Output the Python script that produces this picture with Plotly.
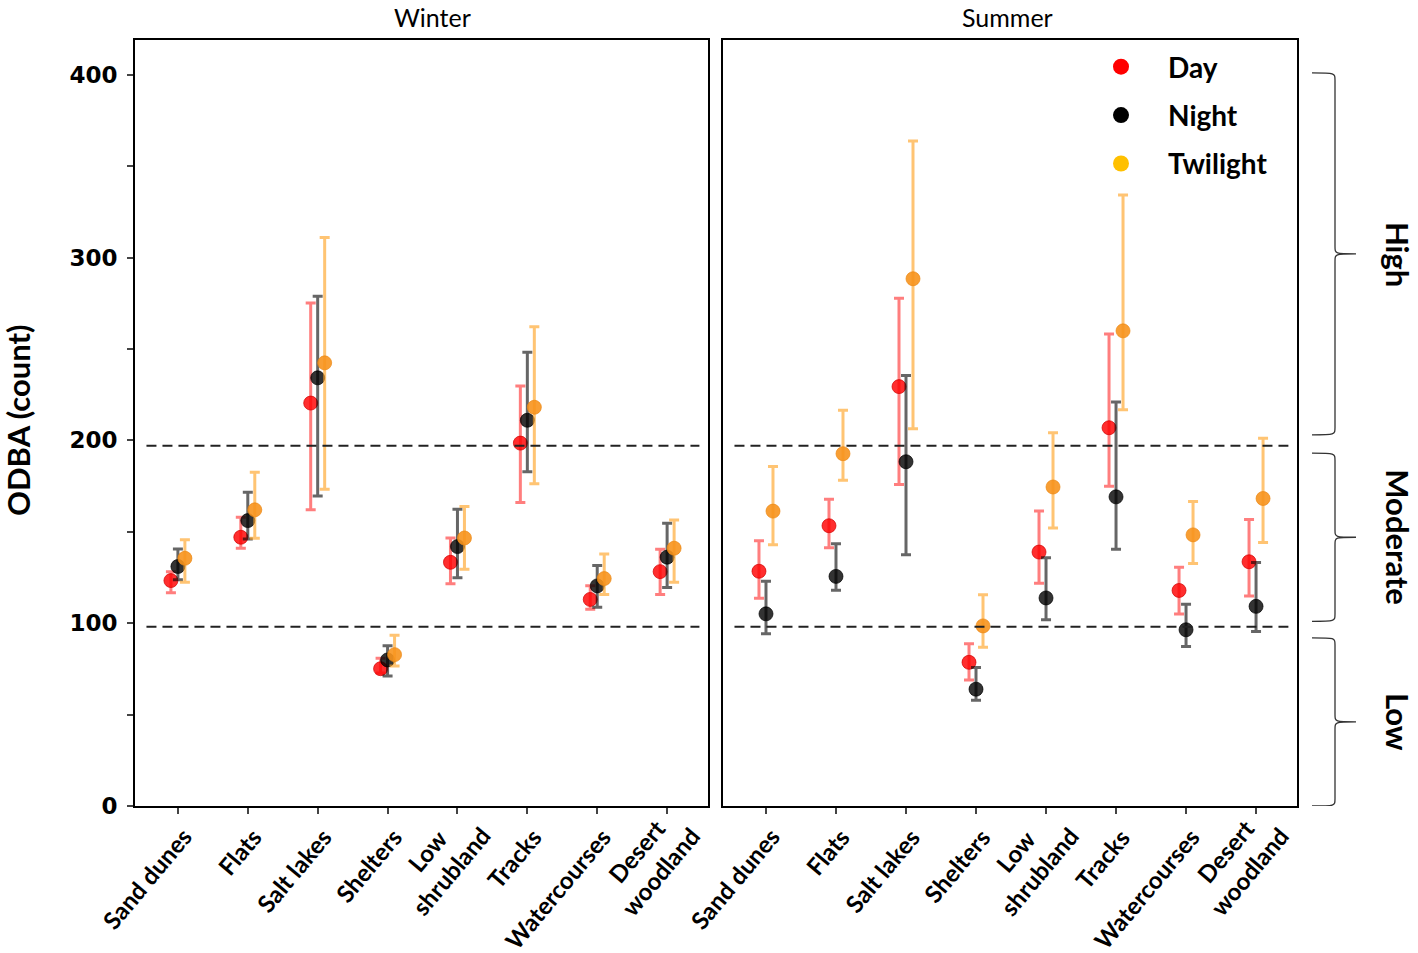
import plotly.graph_objects as go

# ---------------- data ----------------
categories = ["Sand dunes", "Flats", "Salt lakes", "Shelters", "Low<br>shrubland",
              "Tracks", "Watercourses", "Desert<br>woodland"]
periods = ["Day", "Night", "Twilight"]

# Winter
winter_day_mean = [123.3, 147.0, 220.4, 75.1, 133.3, 198.5, 113.0, 128.2]
winter_day_upper = [128.2, 158.0, 275.1, 80.8, 146.6, 229.8, 120.5, 140.4]
winter_day_lower = [116.7, 141.0, 162.0, 72.8, 121.6, 166.0, 107.6, 115.7]

winter_night_mean = [131.0, 156.1, 234.2, 79.9, 141.9, 211.0, 120.4, 136.1]
winter_night_upper = [140.6, 171.6, 278.9, 87.7, 162.3, 248.2, 131.5, 154.7]
winter_night_lower = [123.7, 146.1, 169.6, 71.1, 124.9, 182.8, 108.7, 119.5]

winter_twi_mean = [135.5, 162.0, 242.4, 82.8, 146.6, 218.1, 124.4, 141.0]
winter_twi_upper = [145.6, 182.6, 310.9, 93.4, 163.8, 262.1, 137.9, 156.5]
winter_twi_lower = [122.4, 146.5, 173.3, 76.6, 129.5, 176.3, 115.7, 122.4]

# Summer
summer_day_mean = [128.4, 153.3, 229.4, 78.6, 138.9, 206.9, 117.9, 133.6]
summer_day_upper = [145.1, 167.8, 277.7, 88.8, 161.3, 258.2, 130.6, 156.7]
summer_day_lower = [113.7, 141.2, 175.8, 68.9, 121.8, 174.9, 105.0, 114.9]

summer_night_mean = [105.1, 125.6, 188.3, 63.9, 113.8, 169.1, 96.4, 109.2]
summer_night_upper = [123.0, 143.4, 235.5, 75.8, 135.8, 221.0, 110.3, 133.2]
summer_night_lower = [94.2, 118.0, 137.4, 57.9, 101.9, 140.4, 87.2, 95.5]

summer_twi_mean = [161.3, 192.7, 288.4, 98.5, 174.5, 259.9, 148.3, 168.2]
summer_twi_upper = [185.7, 216.5, 363.7, 115.5, 204.2, 334.2, 166.6, 201.1]
summer_twi_lower = [142.9, 178.2, 206.3, 86.8, 152.1, 216.8, 132.6, 144.1]

thresholds = [98, 197]
bands = [("High", 203, 401), ("Moderate", 101, 193), ("Low", 0, 92)]
y_ticks = [0, 50, 100, 150, 200, 250, 300, 350, 400]

# ---------------- styles ----------------
offsets = {"Day": -0.1, "Night": 0.0, "Twilight": 0.1}
marker_col = {"Day": "rgba(255,0,0,0.82)", "Night": "rgba(0,0,0,0.8)",
              "Twilight": "rgba(247,148,29,0.9)"}
marker_line = {"Day": "rgba(210,0,0,0.7)", "Night": "rgba(0,0,0,0.7)",
               "Twilight": "rgba(235,135,20,0.7)"}
err_col = {"Day": "rgba(255,40,40,0.6)", "Night": "rgba(0,0,0,0.6)",
           "Twilight": "rgba(255,165,40,0.65)"}
legend_col = {"Day": "#FF0000", "Night": "#000000", "Twilight": "#FFC000"}

CAL = "Lato, 'Open Sans', sans-serif"

series = {
    ("x", "y"): {
        "Day": (winter_day_mean, winter_day_upper, winter_day_lower),
        "Night": (winter_night_mean, winter_night_upper, winter_night_lower),
        "Twilight": (winter_twi_mean, winter_twi_upper, winter_twi_lower),
    },
    ("x2", "y2"): {
        "Day": (summer_day_mean, summer_day_upper, summer_day_lower),
        "Night": (summer_night_mean, summer_night_upper, summer_night_lower),
        "Twilight": (summer_twi_mean, summer_twi_upper, summer_twi_lower),
    },
}

fig = go.Figure()
for (xa, ya), d in series.items():
    for p in periods:
        mean, up, lo = d[p]
        xs = [i + offsets[p] for i in range(len(categories))]
        fig.add_trace(go.Scatter(
            x=xs, y=mean, xaxis=xa, yaxis=ya, mode="markers", showlegend=False,
            name=p,
            marker=dict(size=14, color=marker_col[p],
                        line=dict(width=1, color=marker_line[p])),
            error_y=dict(type="data", symmetric=False,
                         array=[u - m for u, m in zip(up, mean)],
                         arrayminus=[m - l for m, l in zip(mean, lo)],
                         color=err_col[p], thickness=3, width=5),
        ))

# legend entries
for p in periods:
    fig.add_trace(go.Scatter(
        x=[None], y=[None], xaxis="x2", yaxis="y2", mode="markers", name=p,
        legendgroup=p, marker=dict(size=16, color=legend_col[p])))

W, H = 1418, 953
xw = [135 / W, 708 / W]
xs_ = [723 / W, 1297 / W]
yd = [1 - 806 / H, 1 - 40 / H]
xrange = [-0.614, 7.585]
yrange = [0, 419]

axis_common = dict(showgrid=False, zeroline=False, showline=True, linecolor="black",
                   linewidth=2, mirror=True, automargin=False)

fig.update_layout(
    width=W, height=H, margin=dict(l=0, r=0, t=0, b=0, autoexpand=False),
    plot_bgcolor="white", paper_bgcolor="white",
    xaxis=dict(domain=xw, range=xrange, anchor="y", tickmode="array",
               tickvals=list(range(len(categories))), showticklabels=False,
               ticks="outside", ticklen=6, tickwidth=2, **axis_common),
    xaxis2=dict(domain=xs_, range=xrange, anchor="y2", tickmode="array",
                tickvals=list(range(len(categories))), showticklabels=False,
                ticks="outside", ticklen=6, tickwidth=2, **axis_common),
    yaxis=dict(domain=yd, range=yrange, anchor="x", tickmode="array",
               tickvals=y_ticks,
               ticktext=[str(v) if v % 100 == 0 else "" for v in y_ticks],
               ticks="outside", ticklen=6, tickwidth=2,
               tickfont=dict(family="DejaVu Sans", size=23, color="black",
                             weight="bold"),
               ticklabelstandoff=5, **axis_common),
    yaxis2=dict(domain=yd, range=yrange, anchor="x2", showticklabels=False,
                ticks="", **axis_common),
    legend=dict(x=1074 / W, y=1 - 42 / H, xanchor="left", yanchor="top",
                bgcolor="rgba(0,0,0,0)", tracegroupgap=9, itemwidth=84,
                font=dict(family=CAL, size=28, color="black", weight="bold")),
    showlegend=True,
)

shapes = []
for xa, ya in [("x", "y"), ("x2", "y2")]:
    for t in thresholds:
        shapes.append(dict(type="line", xref=f"{xa} domain", yref=ya,
                           x0=0.02, x1=0.985, y0=t, y1=t,
                           line=dict(color="#222", width=2, dash="10px,6px")))

annotations = []
# category labels under each panel (rotated, centred lines)
for xa in ["x", "x2"]:
    for i, lab in enumerate(categories):
        n = lab.count("<br>") + 1
        annotations.append(dict(
            text=lab, xref=xa, yref="paper", x=i, y=yd[0],
            xanchor="right", yanchor="top", align="center", showarrow=False,
            textangle=-50, xshift=22 + 19 * (n - 1), yshift=-14 + 22 * (n - 1),
            font=dict(family=CAL, size=24, color="black", weight="bold")))

# curly braces on the right (x in paper, y in data units)
bx0, bx1, bx2 = 1312 / W, 1335 / W, 1356 / W
for name, lo, hi in bands:
    mid = (lo + hi) / 2
    r = 4
    path = (f"M {bx0},{hi} C {bx1},{hi} {bx1},{hi} {bx1},{hi - r} "
            f"L {bx1},{mid + r} C {bx1},{mid} {bx1},{mid} {bx2},{mid} "
            f"C {bx1},{mid} {bx1},{mid} {bx1},{mid - r} "
            f"L {bx1},{lo + r} C {bx1},{lo} {bx1},{lo} {bx0},{lo}")
    shapes.append(dict(type="path", xref="paper", yref="y2", path=path,
                       line=dict(color="#333", width=1.3)))
    annotations.append(dict(text=name, xref="paper", yref="y2", x=1398 / W, y=mid,
                            xanchor="center", yanchor="middle",
                            showarrow=False, textangle=90,
                            font=dict(family=CAL, size=31, color="black",
                                      weight="bold")))

annotations += [
    dict(text="Winter", xref="paper", yref="paper", x=432 / W,
         y=1, showarrow=False, xanchor="center", yanchor="top",
         font=dict(family=CAL, size=25, color="black")),
    dict(text="Summer", xref="paper", yref="paper", x=1007 / W,
         y=1, showarrow=False, xanchor="center", yanchor="top",
         font=dict(family=CAL, size=25, color="black")),
    dict(text="ODBA (count)", xref="paper", yref="paper", x=18 / W,
         y=1 - 420 / H, showarrow=False, textangle=-90,
         xanchor="center", yanchor="middle",
         font=dict(family=CAL, size=31, color="black", weight="bold")),
]

fig.update_layout(shapes=shapes, annotations=annotations)
fig.write_html("out.html", config={"displayModeBar": False},
               post_script="document.body.style.margin='0';"
                           "document.documentElement.style.overflow='hidden';")
